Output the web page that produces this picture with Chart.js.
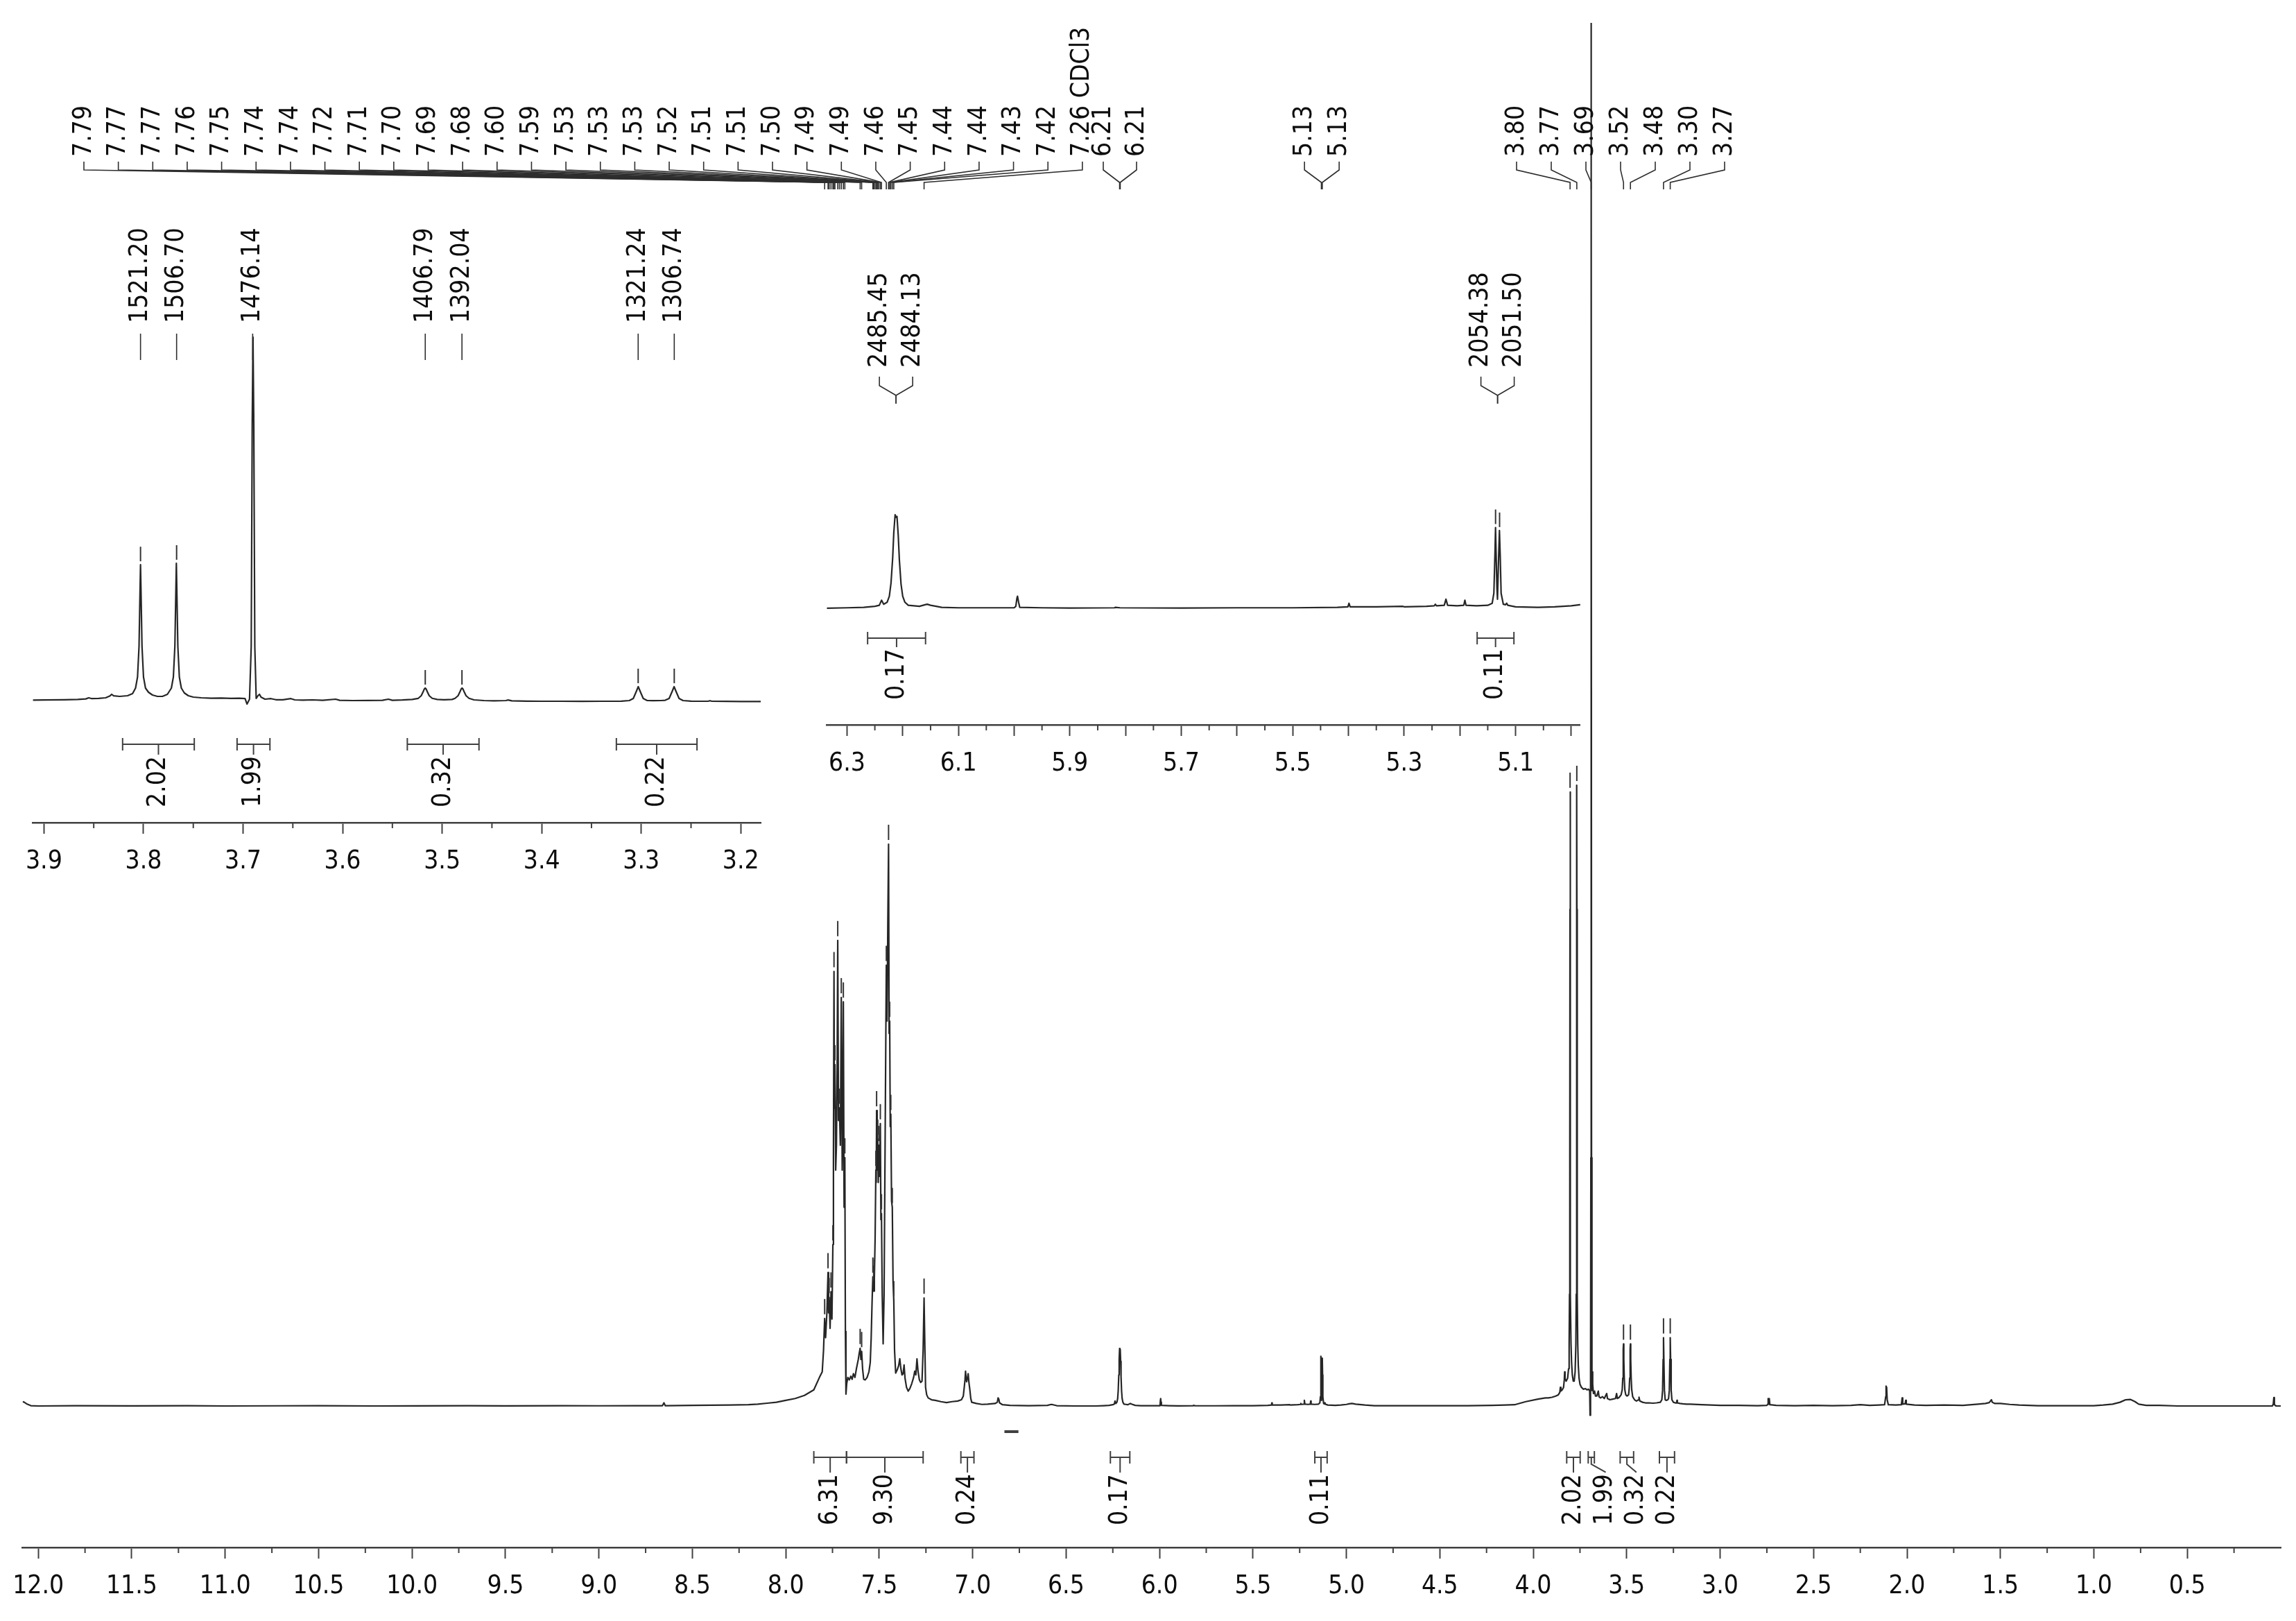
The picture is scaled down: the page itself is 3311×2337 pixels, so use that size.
<!DOCTYPE html>
<html><head><meta charset="utf-8">
<script src="https://cdn.jsdelivr.net/npm/chart.js@4.4.1/dist/chart.umd.min.js"></script>
<style>
html,body{margin:0;padding:0;background:#ffffff;}
#wrap{position:relative;width:3311px;height:2337px;overflow:hidden;background:#fff;}
canvas{position:absolute;left:0;top:0;}
</style></head><body>
<div id="wrap">
<canvas id="main" width="3311" height="2337"></canvas>
<canvas id="ins1" width="3311" height="2337"></canvas>
<canvas id="ins2" width="3311" height="2337"></canvas>
</div>
<script>
// ================= DATA =================
// 1H spectrum, [chemical shift (ppm), intensity (3.77 ppm line = 100)]
const spectrum = [
[12.084,0.7],[12.075,0.6],[12.06,0.3],[12.04,0.05],[12.0,0],[11.8,0.05],[11.5,0.02],[11.2,0.05],[11.0,0],[10.7,0.03],[10.5,0.05],[10.2,0],[10.0,0.02],[9.7,0.04],[9.5,0.02],[9.2,0.05],[9.0,0.03],[8.8,0.05],[8.66,0.05],[8.652,0.5],[8.645,0.05],[8.5,0.1],[8.4,0.12],[8.3,0.15],[8.2,0.2],[8.15,0.3],[8.1,0.45],[8.05,0.6],[8.0,0.9],[7.95,1.2],[7.9,1.7],[7.85,2.6],[7.82,4.6],[7.805,5.5],
[7.798,9],[7.792,14.1],[7.787,11],[7.780,15],[7.774,21.5],[7.771,15],[7.768,17.5],[7.763,12.5],[7.758,18.4],[7.753,14],[7.748,26],[7.745,40],[7.742,70],[7.740,48],[7.737,55],[7.733,38],[7.729,42],[7.725,55],[7.722,75],[7.718,46],[7.713,48],[7.708,42],[7.703,65.8],[7.698,38],[7.695,45],[7.692,65.1],[7.688,32],[7.684,40],[7.681,12],[7.678,1.9],[7.674,3.6],[7.668,4.6],[7.660,4.2],[7.652,4.8],[7.645,4.3],[7.638,5.2],[7.630,4.6],[7.622,6],[7.612,7.5],[7.607,8.5],[7.602,9.3],[7.598,7.5],[7.594,8.8],[7.589,6],[7.583,4.3],[7.575,4.2],[7.565,4.6],[7.555,5.5],[7.548,7],[7.543,11],[7.538,17],[7.534,20.8],[7.532,18.5],[7.530,19.5],[7.528,18.5],[7.526,20.5],[7.522,27],[7.518,38],[7.516,36],[7.514,47.6],[7.511,38],[7.508,43],[7.505,36],[7.502,42],[7.498,37],[7.494,45.5],[7.491,30],[7.488,31],[7.484,18],[7.479,10],[7.474,18],[7.469,40],[7.465,58],[7.462,71],[7.458,62],[7.454,78],[7.450,90.5],[7.447,60],[7.444,62],[7.441,45],[7.438,47],[7.434,33],[7.430,32],[7.426,20],[7.422,17],[7.418,9],[7.412,5.3],[7.404,5.8],[7.396,6.5],[7.390,7.6],[7.384,6],[7.378,5],[7.372,5.2],[7.367,6.6],[7.362,4.5],[7.354,3],[7.345,2.4],[7.336,2.8],[7.326,3.6],[7.316,4.6],[7.310,5.6],[7.304,5],[7.298,7.6],[7.292,5.5],[7.285,4.2],[7.278,3.8],[7.271,4.0],[7.265,9],[7.260,17.4],[7.256,10],[7.252,3],[7.246,1.8],[7.238,1.3],[7.220,1.0],[7.200,0.9],[7.170,0.7],[7.140,0.55],[7.110,0.7],[7.080,0.8],[7.060,1.0],[7.050,1.6],[7.045,3.0],[7.041,4.2],[7.038,5.6],[7.035,4.4],[7.032,3.9],[7.028,4.5],[7.024,5.2],[7.020,3.8],[7.015,2.6],[7.010,1.2],[7.005,0.6],[6.98,0.4],[6.95,0.25],[6.92,0.3],[6.88,0.4],[6.868,0.6],[6.864,1.3],[6.860,1.1],[6.856,0.5],[6.84,0.2],[6.80,0.1],[6.70,0.05],[6.60,0.1],[6.58,0.25],[6.57,0.2],[6.55,0.05],[6.45,0],[6.40,0],
[6.34,0],[6.30,0.05],[6.27,0.1],[6.25,0.2],[6.242,0.3],[6.238,0.8],[6.234,0.4],[6.228,0.6],[6.224,1.2],[6.221,2.5],[6.218,5.0],[6.216,7.5],[6.2136,9.27],[6.212,9.0],[6.2103,9.1],[6.208,7.2],[6.206,4.8],[6.203,2.4],[6.200,1.2],[6.196,0.6],[6.190,0.3],[6.180,0.25],[6.170,0.2],[6.160,0.35],[6.156,0.4],[6.150,0.3],[6.13,0.1],[6.10,0.05],[6.05,0.05],[6.00,0.05],[5.997,0.2],[5.995,1.0],[5.994,1.2],[5.992,0.6],[5.990,0.1],[5.95,0.05],[5.90,0.02],[5.82,0.05],[5.818,0.1],[5.81,0.05],[5.70,0.03],[5.60,0.05],[5.50,0.05],[5.42,0.1],[5.401,0.15],[5.399,0.5],[5.397,0.15],[5.35,0.15],[5.303,0.2],[5.30,0.15],[5.26,0.2],[5.246,0.25],[5.244,0.4],[5.242,0.25],[5.228,0.3],[5.225,0.9],[5.222,0.3],[5.205,0.25],[5.193,0.3],[5.191,0.8],[5.189,0.3],[5.17,0.25],[5.15,0.3],[5.142,0.5],[5.139,1.5],[5.137,5.5],[5.136,8.0],[5.135,5.5],[5.1335,2.0],[5.1325,0.9],[5.1305,5.0],[5.129,7.7],[5.1275,5.0],[5.126,1.5],[5.122,0.4],[5.118,0.35],[5.116,0.5],[5.114,0.3],[5.10,0.15],[5.06,0.1],[5.03,0.15],[5.00,0.25],[4.985,0.35],[4.97,0.4],[4.95,0.3],[4.90,0.15],[4.85,0.05],[4.7,0.05],[4.5,0.05],[4.35,0.05],[4.22,0.1],[4.15,0.15],[4.10,0.2],[4.04,0.7],[3.975,1.1],[3.935,1.3],
[3.92,1.3],[3.90,1.4],[3.88,1.6],[3.866,1.8],[3.858,2.2],[3.855,3.0],[3.852,2.4],[3.845,2.6],[3.838,3.0],[3.834,4.2],[3.832,5.5],[3.830,4.4],[3.824,4.0],[3.816,4.5],[3.811,6],[3.808,10],[3.806,18],[3.8045,40],[3.8035,80],[3.803,98.9],[3.8025,80],[3.8015,40],[3.800,18],[3.798,10],[3.795,7],[3.791,5],[3.786,4.0],[3.781,4.0],[3.776,5.5],[3.772,10],[3.770,18],[3.7685,40],[3.7675,80],[3.767,100],[3.7665,80],[3.7655,40],[3.764,18],[3.762,10],[3.759,6.5],[3.755,4.5],[3.750,3.5],[3.742,3.0],[3.732,2.7],[3.722,2.8],[3.712,2.6],[3.704,2.7],[3.698,2.4],[3.696,-1.5],[3.6935,2],[3.6918,40],[3.6908,200],[3.690,263],[3.6892,200],[3.6882,40],[3.6868,2.5],[3.685,4.5],[3.6835,5.5],[3.682,3.5],[3.678,2.0],[3.672,2.4],[3.667,1.6],[3.660,1.6],[3.652,2.4],[3.648,1.5],[3.640,1.3],[3.630,1.5],[3.620,1.2],[3.607,2.0],[3.603,1.2],[3.590,1.0],[3.575,1.1],[3.560,1.2],[3.554,2.0],[3.550,1.2],[3.540,1.4],[3.530,1.8],[3.524,2.6],[3.521,4.5],[3.519,7.5],[3.518,9.2],[3.517,10],[3.516,9.2],[3.515,7.5],[3.513,4.5],[3.510,2.6],[3.505,1.8],[3.498,1.6],[3.490,1.8],[3.487,2.6],[3.484,4.5],[3.482,7.5],[3.481,9.2],[3.480,10],[3.479,9.2],[3.478,7.5],[3.476,4.5],[3.473,2.6],[3.468,1.5],[3.458,1.0],[3.448,0.8],[3.436,1.0],[3.434,1.4],[3.430,0.8],[3.415,0.6],[3.40,0.5],[3.38,0.5],[3.36,0.45],[3.34,0.5],[3.320,0.6],[3.312,1.0],[3.308,2.5],[3.305,7.5],[3.303,11],[3.301,7.5],[3.298,2.5],[3.294,1.0],[3.288,0.9],[3.280,1.0],[3.276,1.2],[3.272,2.5],[3.269,7.5],[3.267,11],[3.265,7.5],[3.262,2.5],[3.258,1.0],[3.250,0.6],[3.240,0.5],[3.233,0.5],[3.231,0.9],[3.229,0.5],[3.215,0.4],[3.20,0.35],[3.18,0.3],
[3.16,0.3],[3.10,0.2],[3.05,0.15],[3.00,0.1],[2.90,0.1],[2.80,0.05],[2.75,0.1],[2.745,0.3],[2.743,1.2],[2.740,0.3],[2.737,1.2],[2.734,0.2],[2.70,0.1],[2.60,0.05],[2.50,0.1],[2.40,0.05],[2.30,0.1],[2.25,0.2],[2.20,0.1],[2.15,0.15],[2.12,0.2],[2.114,1.5],[2.112,3.2],[2.109,3.0],[2.106,1.0],[2.10,0.2],[2.06,0.15],[2.03,0.2],[2.026,1.3],[2.023,0.3],[2.010,0.35],[2.007,0.9],[2.004,0.3],[1.96,0.15],[1.90,0.1],[1.80,0.15],[1.70,0.1],[1.62,0.3],[1.58,0.4],[1.56,0.55],[1.548,1.0],[1.544,0.6],[1.53,0.4],[1.50,0.4],[1.45,0.25],[1.40,0.15],[1.30,0.05],[1.20,0.05],[1.10,0.05],[1.0,0.05],[0.95,0.15],[0.90,0.3],[0.86,0.6],[0.83,1.0],[0.805,1.05],[0.78,0.7],[0.76,0.3],[0.72,0.1],[0.65,0.1],[0.55,0],[0.40,0],[0.20,0],[0.10,0],[0.045,0],[0.040,0.3],[0.037,1.35],[0.034,0.2],[0.025,0],[0.0,0]
];
// small bar below the baseline near 6.8 ppm
const dashMark = [[6.83,-4.13],[6.755,-4.13]];

const xTickLabels = ['12.0','11.5','11.0','10.5','10.0','9.5','9.0','8.5','8.0','7.5','7.0','6.5','6.0','5.5','5.0','4.5','4.0','3.5','3.0','2.5','2.0','1.5','1.0','0.5'];
const inset1TickLabels = ['3.9','3.8','3.7','3.6','3.5','3.4','3.3','3.2'];
const inset2MajorTicks = [6.3,6.2,6.1,6.0,5.9,5.8,5.7,5.6,5.5,5.4,5.3,5.2,5.1,5.0];
const inset2TickLabels = ['6.3','6.1','5.9','5.7','5.5','5.3','5.1'];

// picked peaks (ppm), main spectrum
const peakShifts = [7.792,7.774,7.768,7.758,7.748,7.742,7.737,7.722,7.713,7.703,7.692,7.684,7.602,7.594,7.534,7.530,7.526,7.518,7.514,7.508,7.502,7.494,7.488,7.462,7.450,7.444,7.438,7.430,7.422,7.260,
                    6.2136,6.2103, 5.134,5.129, 3.803,3.767,3.690,3.517,3.480,3.303,3.267];
const solvent = {ppm: 7.26, name: 'CDCl3'};
const SPEC_MHZ = 400;
const inset1PeaksHz = [1521.20,1506.70,1476.14,1406.79,1392.04,1321.24,1306.74];
const inset2PeaksHz = [2485.45,2484.13,2054.38,2051.50];

const integralFrom  = [7.85, 7.675, 7.063, 6.263, 5.169, 3.821, 3.706, 3.535, 3.325];
const integralTo    = [7.675,7.265, 6.993, 6.159, 5.103, 3.749, 3.673, 3.463, 3.244];
const integralValue = ['6.31','9.30','0.24','0.17','0.11','2.02','1.99','0.32','0.22'];

// ================= STYLE / LAYOUT =================
const W = 3311, H = 2337;
const FONT_FAMILY = '"DejaVu Sans Condensed", "DejaVu Sans", sans-serif';
const FS = 37;
const INK = '#0d0d0d', AXIS = '#404040', LINE = '#262626', CONN = '#2e2e2e';

const mainCfg = {xmin:0.0, xmax:12.084, axisH:106, area:{left:28, right:3289, top:33, axisY:2231, baseY:2027, pxPerUnit:8.95}};
const ins1Cfg = {xmin:3.180, xmax:3.911, axisH:70, area:{left:47.6, right:1097, top:300, axisY:1186, baseY:1012, pxPerUnit:2.0}};
const ins2Cfg = {xmin:4.984, xmax:6.336, axisH:70, area:{left:1192.5, right:2278.8, top:380, axisY:1045, baseY:877, pxPerUnit:14.56}};

function options(cfg, majors, labelFn) {
  const a = cfg.area;
  return {
    responsive:false, animation:false, devicePixelRatio:1, events:[],
    layout:{padding:{left:a.left, right:W-a.right, top:a.top, bottom:H-a.axisY-cfg.axisH}},
    plugins:{legend:{display:false}, tooltip:{enabled:false}},
    elements:{point:{radius:0}, line:{tension:0}},
    scales:{
      x:{type:'linear', reverse:true, min:cfg.xmin, max:cfg.xmax,
         afterBuildTicks:s=>{ s.ticks = majors.map(v=>({value:v})); },
         afterFit:s=>{ s.height = cfg.axisH; },
         ticks:{autoSkip:false, maxRotation:0, minRotation:0, padding:18, color:INK,
                font:{family:FONT_FAMILY, size:FS}, callback:v=>labelFn(v)},
         grid:{drawOnChartArea:false, drawTicks:true, tickLength:16, tickWidth:2, tickColor:AXIS},
         border:{display:true, color:AXIS, width:2.5}},
      y:{display:false, min:-(a.axisY-a.baseY)/a.pxPerUnit, max:(a.baseY-a.top)/a.pxPerUnit}
    }
  };
}
function specDataset(){ return {data:spectrum.map(p=>({x:p[0],y:p[1]})), borderColor:LINE, borderWidth:2.2, borderJoinStyle:'round', pointRadius:0, fill:false}; }

// ================= helpers =================
function vText(ctx, s, x, y, align){ ctx.save(); ctx.translate(x,y); ctx.rotate(-Math.PI/2); ctx.textAlign=align; ctx.textBaseline='middle'; ctx.fillText(s,0,0); ctx.restore(); }
function poly(ctx, pts){ ctx.beginPath(); ctx.moveTo(pts[0][0],pts[0][1]); for(let i=1;i<pts.length;i++) ctx.lineTo(pts[i][0],pts[i][1]); ctx.stroke(); }
function peakHeight(ppm){ let m=-Infinity; for(const p of spectrum) if(Math.abs(p[0]-ppm)<0.0011) m=Math.max(m,p[1]); return m; }
function minorTicks(chart, majors, half, len){
  const s=chart.scales.x, ctx=chart.ctx;
  ctx.save(); ctx.strokeStyle=AXIS; ctx.lineWidth=2;
  majors.forEach(v=>{ const m=v-half; if(m<s.min||m>s.max) return; const x=s.getPixelForValue(m); poly(ctx,[[x,s.top],[x,s.top+len]]); });
  ctx.restore();
}
function markers(chart, ppms, gap, len){
  const ctx=chart.ctx, X=v=>chart.scales.x.getPixelForValue(v), Y=v=>chart.scales.y.getPixelForValue(v);
  ctx.save(); ctx.strokeStyle='#333'; ctx.lineWidth=2;
  ppms.forEach(p=>{ const y=Y(peakHeight(p)); poly(ctx,[[X(p),y-gap],[X(p),y-gap-len]]); });
  ctx.restore();
}
function integral(chart, i, barY, textTop, shift){
  const ctx=chart.ctx, X=v=>chart.scales.x.getPixelForValue(v);
  const x1=X(integralFrom[i]), x2=X(integralTo[i]), xm=(x1+x2)/2, xl=xm+(shift||0);
  ctx.save(); ctx.strokeStyle='#404040'; ctx.lineWidth=2; ctx.fillStyle=INK; ctx.font=`${FS}px ${FONT_FAMILY}`;
  poly(ctx,[[x1,barY],[x2,barY]]);
  poly(ctx,[[x1,barY-9],[x1,barY+9]]); poly(ctx,[[x2,barY-9],[x2,barY+9]]);
  if(Math.abs(xl-xm)<1) poly(ctx,[[xm,barY],[xm,textTop-2]]);
  else poly(ctx,[[xm,barY],[xm,barY+10],[xl,barY+21],[xl,textTop-2]]);
  vText(ctx, integralValue[i], xl, textTop, 'right');
  ctx.restore();
}
const mainMajors = xTickLabels.map(Number);
const ins1Majors = inset1TickLabels.map(Number);

// ================= MAIN =================
const mainGroups = [
  {from:0, to:29, firstX:121, step:49.65},
  {from:30, to:31, step:48},
  {from:32, to:33, step:50},
  {from:34, to:40, firstX:2187, step:50}
];
const mainMarkerIdx = [...Array(30).keys(), 34,35,37,38,39,40];
const mainDecor = {id:'mainDecor', afterDraw(chart){
  const ctx=chart.ctx, X=v=>chart.scales.x.getPixelForValue(v);
  minorTicks(chart, mainMajors, 0.25, 8);
  markers(chart, mainMarkerIdx.map(i=>peakShifts[i]), 6, 22);
  ctx.save(); ctx.fillStyle=INK; ctx.font=`${FS}px ${FONT_FAMILY}`; ctx.strokeStyle=CONN; ctx.lineWidth=1.6;
  mainGroups.forEach(g=>{
    const n=g.to-g.from+1; let x0;
    if(g.firstX!=null) x0=g.firstX;
    else { let s=0; for(let i=g.from;i<=g.to;i++) s+=X(peakShifts[i]); x0=s/n-(n-1)*g.step/2; }
    for(let k=0;k<n;k++){
      const i=g.from+k, lx=x0+k*g.step, pxv=X(peakShifts[i]);
      let t=peakShifts[i].toFixed(2); if(Math.abs(peakShifts[i]-solvent.ppm)<0.0005) t+=' '+solvent.name;
      vText(ctx, t, lx, 226, 'left');
      poly(ctx,[[lx,233],[lx,245],[pxv,263],[pxv,273]]);
    }
  });
  ctx.restore();
  const shifts={6:20, 7:13};
  integralValue.forEach((_,i)=>integral(chart, i, 2101, 2125, shifts[i]));
}};
new Chart(document.getElementById('main'), {
  type:'line',
  data:{datasets:[specDataset(), {data:dashMark.map(p=>({x:p[0],y:p[1]})), borderColor:'#404040', borderWidth:4, pointRadius:0, fill:false}]},
  options:options(mainCfg, mainMajors, v=>{const s=Number(v).toFixed(1); return xTickLabels.includes(s)?s:'';}),
  plugins:[mainDecor]
});

// ================= INSET 1 (3.9 - 3.2 ppm) =================
const ins1Decor = {id:'ins1Decor', afterDraw(chart){
  const ctx=chart.ctx, X=v=>chart.scales.x.getPixelForValue(v);
  minorTicks(chart, ins1Majors, 0.05, 8);
  markers(chart, inset1PeaksHz.filter((_,i)=>i!==2).map(h=>h/SPEC_MHZ), 5, 21);
  ctx.save(); ctx.fillStyle=INK; ctx.font=`${FS}px ${FONT_FAMILY}`; ctx.strokeStyle=CONN; ctx.lineWidth=1.6;
  inset1PeaksHz.forEach(h=>{ const x=X(h/SPEC_MHZ); vText(ctx, h.toFixed(2), x, 466, 'left'); poly(ctx,[[x,481],[x,519]]); });
  ctx.restore();
  [5,6,7,8].forEach(i=>integral(chart, i, 1073, 1090, 0));
}};
new Chart(document.getElementById('ins1'), {
  type:'line', data:{datasets:[specDataset()]},
  options:options(ins1Cfg, ins1Majors, v=>{const s=Number(v).toFixed(1); return inset1TickLabels.includes(s)?s:'';}),
  plugins:[ins1Decor]
});

// ================= INSET 2 (6.3 - 5.0 ppm) =================
const ins2Decor = {id:'ins2Decor', afterDraw(chart){
  const ctx=chart.ctx, X=v=>chart.scales.x.getPixelForValue(v);
  minorTicks(chart, inset2MajorTicks, 0.05, 8);
  markers(chart, inset2PeaksHz.slice(2).map(h=>h/SPEC_MHZ), 5, 21);
  ctx.save(); ctx.fillStyle=INK; ctx.font=`${FS}px ${FONT_FAMILY}`; ctx.strokeStyle=CONN; ctx.lineWidth=1.6;
  [[0,1],[2,3]].forEach(pair=>{
    const c=(X(inset2PeaksHz[pair[0]]/SPEC_MHZ)+X(inset2PeaksHz[pair[1]]/SPEC_MHZ))/2;
    pair.forEach((idx,k)=>{
      const lx=c+(k===0?-24:24);
      vText(ctx, inset2PeaksHz[idx].toFixed(2), lx, 530, 'left');
      poly(ctx,[[lx,543],[lx,556],[c,570],[c,582]]);
    });
  });
  ctx.restore();
  [3,4].forEach(i=>integral(chart, i, 920, 935, 0));
}};
new Chart(document.getElementById('ins2'), {
  type:'line', data:{datasets:[specDataset()]},
  options:options(ins2Cfg, inset2MajorTicks, v=>{const s=Number(v).toFixed(1); return inset2TickLabels.includes(s)?s:'';}),
  plugins:[ins2Decor]
});
</script>
</body></html>
